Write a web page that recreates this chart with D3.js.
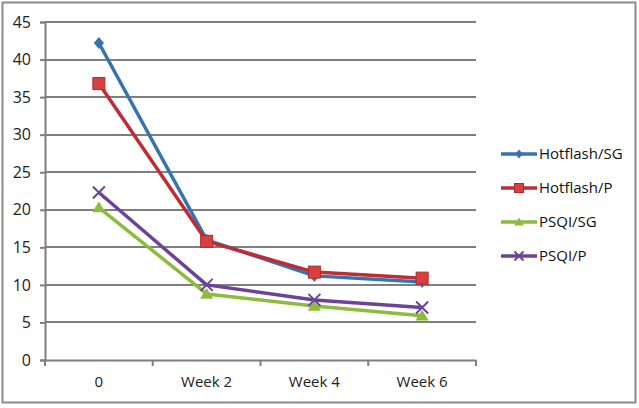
<!DOCTYPE html>
<html><head><meta charset="utf-8">
<script src="https://cdn.jsdelivr.net/npm/d3@7"></script>
<style>body{margin:0;background:#fff;} svg{display:block;}</style>
</head><body>
<svg id="c" width="639" height="408"></svg>
<script>
const categories = ["0", "Week 2", "Week 4", "Week 6"];
const seriesNames = ["Hotflash/SG", "Hotflash/P", "PSQI/SG", "PSQI/P"];
const hotflashSG = [42.2, 16.0, 11.2, 10.4];
const hotflashP = [36.8, 15.8, 11.7, 10.9];
const psqiSG = [20.3, 8.8, 7.2, 5.9];
const psqiP = [22.3, 10.0, 8.0, 7.0];
const yTicks = [0, 5, 10, 15, 20, 25, 30, 35, 40, 45];

const series = [
  {name: seriesNames[0], values: hotflashSG, color: "#3474b0", mcolor: "#3474b0", marker: "diamond"},
  {name: seriesNames[1], values: hotflashP, color: "#be2d36", mcolor: "#d8403e", marker: "square"},
  {name: seriesNames[2], values: psqiSG, color: "#8cbb3e", mcolor: "#8cbb3e", marker: "triangle"},
  {name: seriesNames[3], values: psqiP, color: "#6b4398", mcolor: "#6b4398", marker: "x"}
];

const svg = d3.select("#c");
const font = "'Open Sans', sans-serif";
svg.append("rect").attr("x", 2.5).attr("y", 2.5).attr("width", 633).attr("height", 400)
  .attr("fill", "#fff").attr("stroke", "#8a8a8a").attr("stroke-width", 2);

const x0 = 45, x1 = 476, yTop = 22, yBot = 360;
const x = d3.scaleBand().domain(categories).range([x0, x1]);
const y = d3.scaleLinear().domain([0, 45]).range([yBot, yTop]);
const gridCol = "#7f7f7f";

// gridlines
svg.append("g").selectAll("line").data(yTicks.filter(d => d > 0)).join("line")
  .attr("x1", x0).attr("x2", x1).attr("y1", d => Math.round(y(d))).attr("y2", d => Math.round(y(d)))
  .attr("stroke", gridCol).attr("stroke-width", 2);

// y axis
const yAxis = svg.append("g").attr("transform", `translate(${x0},0)`)
  .call(d3.axisLeft(y).tickValues(yTicks).tickSize(5).tickPadding(9));
yAxis.select(".domain").attr("stroke", gridCol).attr("stroke-width", 2);
yAxis.selectAll(".tick line").attr("stroke", gridCol).attr("stroke-width", 2);
yAxis.selectAll("text").attr("font-family", font).attr("font-size", 16).attr("fill", "#222");

// x axis
const xAxis = svg.append("g").attr("transform", `translate(0,${yBot})`)
  .call(d3.axisBottom(x).tickSize(0).tickPadding(16));
xAxis.select(".domain").attr("stroke", gridCol).attr("stroke-width", 2);
xAxis.selectAll("text").attr("font-family", font).attr("font-size", 15).attr("fill", "#222");
// category boundary ticks
const bounds = categories.map(c => x(c)).concat([x1]);
svg.append("g").selectAll("line").data(bounds).join("line")
  .attr("x1", d => d).attr("x2", d => d).attr("y1", yBot).attr("y2", yBot + 6)
  .attr("stroke", gridCol).attr("stroke-width", 2);

const cx = c => x(c) + x.bandwidth() / 2;
const line = d3.line().x((d, i) => cx(categories[i])).y(d => y(d));

function drawMarker(g, type, px, py, color, r) {
  if (type === "diamond") {
    g.append("path").attr("d", `M${px},${py - r}L${px + r * 0.85},${py}L${px},${py + r}L${px - r * 0.85},${py}Z`).attr("fill", color);
  } else if (type === "square") {
    g.append("rect").attr("x", px - r).attr("y", py - r).attr("width", 2 * r).attr("height", 2 * r)
      .attr("fill", color).attr("stroke", "#b02a2a").attr("stroke-width", 1);
  } else if (type === "triangle") {
    g.append("path").attr("d", `M${px},${py - r}L${px + r * 1.1},${py + r * 0.8}L${px - r * 1.1},${py + r * 0.8}Z`).attr("fill", color);
  } else if (type === "x") {
    g.append("path").attr("d", `M${px - r},${py - r}L${px + r},${py + r}M${px - r},${py + r}L${px + r},${py - r}`)
      .attr("stroke", color).attr("stroke-width", 2).attr("fill", "none");
  }
}

series.forEach(s => {
  svg.append("path").datum(s.values).attr("d", line).attr("fill", "none")
    .attr("stroke", s.color).attr("stroke-width", 3.5).attr("stroke-linejoin", "round");
});
series.forEach(s => {
  const g = svg.append("g");
  s.values.forEach((v, i) => drawMarker(g, s.marker, cx(categories[i]), y(v), s.mcolor, 6));
});

// legend
const lg = svg.append("g");
series.forEach((s, i) => {
  const ly = 154 + i * 34;
  lg.append("line").attr("x1", 501).attr("x2", 537).attr("y1", ly).attr("y2", ly)
    .attr("stroke", s.color).attr("stroke-width", 3.5);
  drawMarker(lg, s.marker, 519, ly, s.mcolor, 4.5);
  lg.append("text").attr("x", 539).attr("y", ly).attr("dy", "0.35em")
    .attr("font-family", font).attr("font-size", 15).attr("fill", "#111").text(s.name);
});
</script>
</body></html>
